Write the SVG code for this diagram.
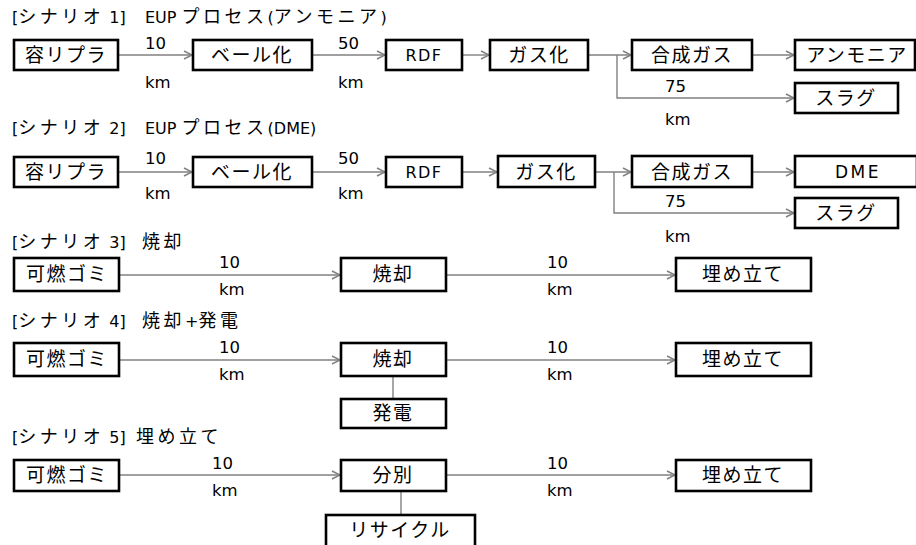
<svg xmlns="http://www.w3.org/2000/svg" width="916" height="545" viewBox="0 0 916 545">
<style>
text{font-family:"DejaVu Sans","Noto Sans CJK JP",sans-serif;fill:#000}
.t{font-size:16px}
.t .j{font-family:"Noto Sans CJK JP",sans-serif;font-size:18px;letter-spacing:3.5px}
.n rect{fill:#fff;stroke:#000;stroke-width:2.6}
.n text{font-family:"Noto Sans CJK JP",sans-serif;font-size:19px;text-anchor:middle;letter-spacing:1.5px}
.n text.l{font-family:"DejaVu Sans",sans-serif;font-size:16px;letter-spacing:1.5px}
.n text.w{font-size:17px;letter-spacing:2.5px}
.lb{font-size:16.5px}
.c path{fill:none;stroke:#808080;stroke-width:1.4}
</style>
<defs>
<marker id="a" markerUnits="userSpaceOnUse" markerWidth="12" markerHeight="12" refX="9" refY="5" orient="auto" viewBox="0 0 12 10">
<path d="M1,1 L9,5 L1,9" fill="none" stroke="#808080" stroke-width="1.4"/>
</marker>
</defs>
<rect width="916" height="545" fill="#fff"/>
<g id="titles">
<text class="t" x="12" y="23">[<tspan class="j">シナリオ</tspan> 1]</text>
<text class="t" x="145" y="23">EUP <tspan class="j">プロセス</tspan>(<tspan class="j">アンモニア</tspan>)</text>
<text class="t" x="12" y="134">[<tspan class="j">シナリオ</tspan> 2]</text>
<text class="t" x="145" y="134">EUP <tspan class="j">プロセス</tspan>(DME)</text>
<text class="t" x="12" y="248">[<tspan class="j">シナリオ</tspan> 3]</text>
<text class="t" x="142" y="248"><tspan class="j">焼却</tspan></text>
<text class="t" x="12" y="327">[<tspan class="j">シナリオ</tspan> 4]</text>
<text class="t" x="142" y="327"><tspan class="j">焼却</tspan>+<tspan class="j">発電</tspan></text>
<text class="t" x="12" y="443">[<tspan class="j">シナリオ</tspan> 5]</text>
<text class="t" x="136" y="443"><tspan class="j">埋め立て</tspan></text>
</g>
<g class="c" id="connectors">
<path d="M118,55 H192" marker-end="url(#a)"/>
<path d="M312,55 H385" marker-end="url(#a)"/>
<path d="M462,55 H489" marker-end="url(#a)"/>
<path d="M588,55 H631" marker-end="url(#a)"/>
<path d="M617,55 V98 H794" marker-end="url(#a)"/>
<path d="M752,55 H794" marker-end="url(#a)"/>
<path d="M118,172 H192" marker-end="url(#a)"/>
<path d="M312,172 H385" marker-end="url(#a)"/>
<path d="M462,172 H497" marker-end="url(#a)"/>
<path d="M595,172 H631" marker-end="url(#a)"/>
<path d="M614,172 V213 H794" marker-end="url(#a)"/>
<path d="M752,172 H794" marker-end="url(#a)"/>
<path d="M119,275 H340" marker-end="url(#a)"/>
<path d="M446,275 H675" marker-end="url(#a)"/>
<path d="M119,360 H340" marker-end="url(#a)"/>
<path d="M446,360 H675" marker-end="url(#a)"/>
<path d="M393,376 V399"/>
<path d="M119,475 H340" marker-end="url(#a)"/>
<path d="M446,475 H675" marker-end="url(#a)"/>
<path d="M401,491 V515"/>
</g>
<g id="labels">
<text class="lb" x="145" y="49">10</text><text class="lb" x="145" y="88">km</text>
<text class="lb" x="338" y="49">50</text><text class="lb" x="338" y="88">km</text>
<text class="lb" x="665" y="92">75</text><text class="lb" x="665" y="125">km</text>
<text class="lb" x="145" y="164">10</text><text class="lb" x="145" y="199">km</text>
<text class="lb" x="338" y="164">50</text><text class="lb" x="338" y="199">km</text>
<text class="lb" x="665" y="207">75</text><text class="lb" x="665" y="242">km</text>
<text class="lb" x="219" y="268">10</text><text class="lb" x="219" y="295">km</text>
<text class="lb" x="547" y="268">10</text><text class="lb" x="547" y="295">km</text>
<text class="lb" x="219" y="353">10</text><text class="lb" x="219" y="380">km</text>
<text class="lb" x="547" y="353">10</text><text class="lb" x="547" y="380">km</text>
<text class="lb" x="212" y="469">10</text><text class="lb" x="212" y="496">km</text>
<text class="lb" x="547" y="469">10</text><text class="lb" x="547" y="496">km</text>
</g>
<g class="n" id="s1-yoripura"><rect x="14" y="40" width="104" height="30"/><text x="66" y="62">容リプラ</text></g>
<g class="n" id="s1-bale"><rect x="193" y="40" width="119" height="30"/><text x="252" y="62">ベール化</text></g>
<g class="n" id="s1-rdf"><rect x="386" y="40" width="76" height="30"/><text class="l" x="424" y="61">RDF</text></g>
<g class="n" id="s1-gas"><rect x="490" y="40" width="98" height="30"/><text x="539" y="62">ガス化</text></g>
<g class="n" id="s1-syngas"><rect x="632" y="40" width="120" height="30"/><text x="692" y="62">合成ガス</text></g>
<g class="n" id="s1-ammonia"><rect x="795" y="40" width="120" height="30"/><text x="857" y="62">アンモニア</text></g>
<g class="n" id="s1-slag"><rect x="795" y="83" width="103" height="30"/><text x="846" y="105">スラグ</text></g>
<g class="n" id="s2-yoripura"><rect x="14" y="157" width="104" height="30"/><text x="66" y="179">容リプラ</text></g>
<g class="n" id="s2-bale"><rect x="193" y="157" width="119" height="30"/><text x="252" y="179">ベール化</text></g>
<g class="n" id="s2-rdf"><rect x="386" y="157" width="76" height="30"/><text class="l" x="424" y="178">RDF</text></g>
<g class="n" id="s2-gas"><rect x="498" y="156" width="97" height="31"/><text x="546" y="179">ガス化</text></g>
<g class="n" id="s2-syngas"><rect x="632" y="156" width="120" height="31"/><text x="692" y="179">合成ガス</text></g>
<g class="n" id="s2-dme"><rect x="795" y="156" width="122" height="31"/><text class="l w" x="858" y="178">DME</text></g>
<g class="n" id="s2-slag"><rect x="795" y="198" width="103" height="30"/><text x="846" y="220">スラグ</text></g>
<g class="n" id="s3-waste"><rect x="14" y="258" width="105" height="33"/><text x="67" y="281">可燃ゴミ</text></g>
<g class="n" id="s3-incin"><rect x="341" y="258" width="105" height="33"/><text x="393" y="281">焼却</text></g>
<g class="n" id="s3-landfill"><rect x="676" y="258" width="135" height="33"/><text x="743" y="281">埋め立て</text></g>
<g class="n" id="s4-waste"><rect x="14" y="343" width="105" height="33"/><text x="67" y="366">可燃ゴミ</text></g>
<g class="n" id="s4-incin"><rect x="341" y="343" width="105" height="33"/><text x="393" y="366">焼却</text></g>
<g class="n" id="s4-power"><rect x="341" y="399" width="105" height="29"/><text x="393" y="420">発電</text></g>
<g class="n" id="s4-landfill"><rect x="676" y="343" width="135" height="33"/><text x="743" y="366">埋め立て</text></g>
<g class="n" id="s5-waste"><rect x="14" y="460" width="105" height="31"/><text x="67" y="482">可燃ゴミ</text></g>
<g class="n" id="s5-sort"><rect x="341" y="460" width="105" height="31"/><text x="393" y="482">分別</text></g>
<g class="n" id="s5-recycle"><rect x="326" y="515" width="149" height="33"/><text x="400" y="537">リサイクル</text></g>
<g class="n" id="s5-landfill"><rect x="676" y="460" width="135" height="31"/><text x="743" y="482">埋め立て</text></g>
</svg>
